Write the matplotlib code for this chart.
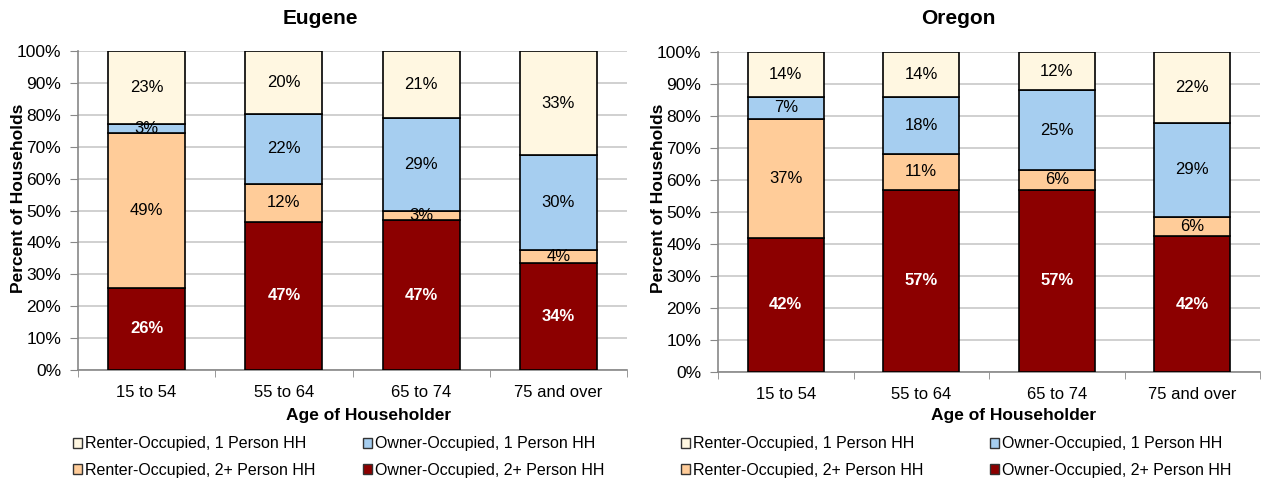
import numpy as np
import matplotlib.pyplot as plt
from matplotlib.patches import Patch

plt.rcParams['font.family'] = ['Liberation Sans', 'DejaVu Sans']

ages = ['15 to 54', '55 to 64', '65 to 74', '75 and over']
series = ['Owner-Occupied, 2+ Person HH', 'Renter-Occupied, 2+ Person HH',
          'Owner-Occupied, 1 Person HH', 'Renter-Occupied, 1 Person HH']
colors = ['#8C0000', '#FFCC99', '#A6CEF0', '#FFF7E1']

# percent of households, stacked bottom to top
eugene_own2 = [26, 47, 47, 34]
eugene_rent2 = [49, 12, 3, 4]
eugene_own1 = [3, 22, 29, 30]
eugene_rent1 = [23, 20, 21, 33]

oregon_own2 = [42, 57, 57, 42]
oregon_rent2 = [37, 11, 6, 6]
oregon_own1 = [7, 18, 25, 29]
oregon_rent1 = [14, 14, 12, 22]

panels = [
    ('Eugene', [eugene_own2, eugene_rent2, eugene_own1, eugene_rent1]),
    ('Oregon', [oregon_own2, oregon_rent2, oregon_own1, oregon_rent1]),
]

W, H = 1269, 483
fig = plt.figure(figsize=(W / 100, H / 100), dpi=100)

# axes boxes in pixels: left, right, top, bottom
boxes = [(78, 627, 51, 370), (718, 1260, 52, 372)]
title_x = [320, 958]
xlabel_x = [369, 1014]
legend_cols = [(73, 363), (681, 990)]

for k, (title, data) in enumerate(panels):
    l, r, t, b = boxes[k]
    ax = fig.add_axes([l / W, 1 - b / H, (r - l) / W, (b - t) / H])
    vals = np.array(data, dtype=float)
    shares = vals / vals.sum(axis=0)  # 100% stacked
    x = np.arange(len(ages))
    bottom = np.zeros(len(ages))
    for i in range(len(series)):
        ax.bar(x, shares[i], 0.56, bottom=bottom, color=colors[i],
               edgecolor='black', linewidth=1.2, zorder=3)
        for j in range(len(ages)):
            yc = bottom[j] + shares[i][j] / 2
            if i == 0:
                ax.text(x[j], yc, f'{int(vals[i][j])}%', ha='center', va='center',
                        color='white', fontsize=12, fontweight='bold', zorder=4)
            else:
                ax.text(x[j], yc, f'{int(vals[i][j])}%', ha='center', va='center',
                        color='black', fontsize=12, zorder=4)
        bottom += shares[i]

    ax.set_xlim(-0.5, len(ages) - 0.5)
    ax.set_ylim(0, 1)
    yt = np.arange(0, 1.01, 0.1)
    ax.set_yticks(yt)
    ax.set_yticklabels([f'{int(round(v * 100))}%' for v in yt])
    ax.set_xticks(x)
    ax.set_xticklabels(ages)
    ax.set_xticks(np.arange(-0.5, len(ages), 1), minor=True)
    ax.tick_params(axis='x', which='major', length=0, pad=11, labelsize=12)
    ax.tick_params(axis='x', which='minor', length=5, color='#888888', direction='out')
    ax.tick_params(axis='y', length=6, color='#888888', labelsize=12.5, pad=6)
    ax.yaxis.grid(True, color='#C8C8C8', linewidth=1.2, zorder=0)
    for s in ['top', 'right']:
        ax.spines[s].set_visible(False)
    for s in ['left', 'bottom']:
        ax.spines[s].set_color('#888888')
        ax.spines[s].set_linewidth(1.2)

    fig.text(title_x[k] / W, 1 - 19 / H, title, ha='center', va='center',
             fontsize=15, fontweight='bold')
    ax.set_xlabel('Age of Householder', fontsize=12.5, fontweight='bold')
    ax.xaxis.set_label_coords((xlabel_x[k] - l) / (r - l), (b - 408) / (b - t))
    ax.set_ylabel('Percent of Households', fontsize=12.5, fontweight='bold')
    ax.yaxis.set_label_coords(-52 / (r - l), (b - 198) / (b - t))

    # two legend columns: renter on the left, owner on the right
    for c, idx in enumerate([[3, 1], [2, 0]]):
        handles = [Patch(facecolor=colors[i], edgecolor='#333333', linewidth=1)
                   for i in idx]
        fig.legend(handles, [series[i] for i in idx], frameon=False,
                   loc='center left',
                   bbox_to_anchor=(legend_cols[k][c] / W, 1 - 457 / H),
                   borderpad=0, borderaxespad=0,
                   fontsize=11.5, handlelength=0.55, handleheight=0.55,
                   handletextpad=0.2, labelspacing=0.7)

plt.savefig('out.png', dpi=100)
